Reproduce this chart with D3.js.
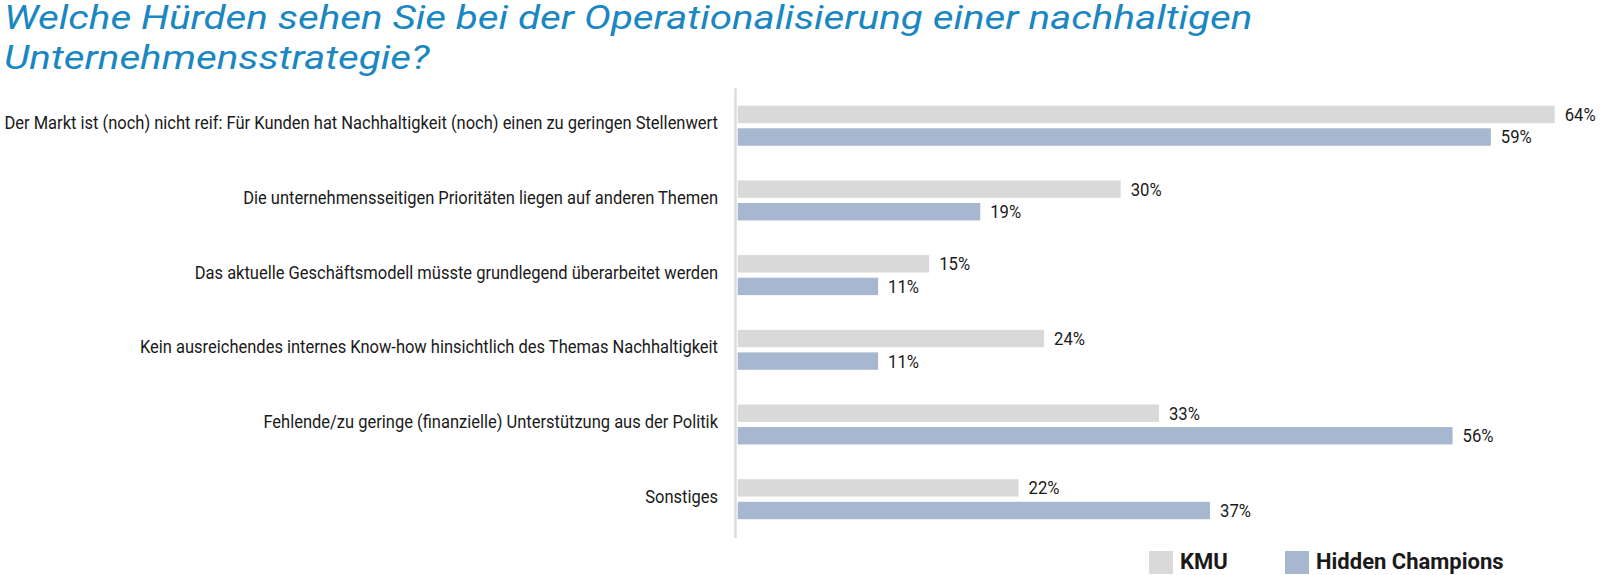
<!DOCTYPE html>
<html><head><meta charset="utf-8">
<script src="https://cdn.jsdelivr.net/npm/d3@7"></script>
<style>html,body{margin:0;padding:0;background:#fff;}svg{display:block;}</style>
</head><body>
<svg id="chart" width="1600" height="575"></svg>
<script>
const titleLines = ["Welche Hürden sehen Sie bei der Operationalisierung einer nachhaltigen", "Unternehmensstrategie?"];
const categories = [
  "Der Markt ist (noch) nicht reif: Für Kunden hat Nachhaltigkeit (noch) einen zu geringen Stellenwert",
  "Die unternehmensseitigen Prioritäten liegen auf anderen Themen",
  "Das aktuelle Geschäftsmodell müsste grundlegend überarbeitet werden",
  "Kein ausreichendes internes Know-how hinsichtlich des Themas Nachhaltigkeit",
  "Fehlende/zu geringe (finanzielle) Unterstützung aus der Politik",
  "Sonstiges"
];
const seriesNames = ["KMU", "Hidden Champions"];
const kmuValues = [64, 30, 15, 24, 33, 22];
const hcValues = [59, 19, 11, 11, 56, 37];
const seriesColors = ["#d9d9d9", "#a6b7cf"];

const svg = d3.select("#chart");
const font = "Roboto, 'Liberation Sans', sans-serif";

// Title
const title = svg.append("g");
const tl = title.selectAll("text").data(titleLines).join("text")
  .attr("font-family", font).attr("font-style", "italic").attr("font-size", 34)
  .attr("fill", "#1a87c2")
  .text(d => d);
const t0 = tl.nodes()[0].getComputedTextLength();
const tsx = 1249 / t0;
tl.attr("transform", (d, i) => `translate(4,${29 + i * 39.5}) scale(${tsx},1)`);

// Scales
const y = d3.scaleBand().domain(categories).range([88.35, 536.55]).paddingInner(0).paddingOuter(0);
const yInner = d3.scaleBand().domain(seriesNames).range([17.35, 57.35]).paddingInner(0.23);
const x = d3.scaleLinear().domain([0, 100]).range([737.7, 737.7 + 1276.5]);

const data = categories.map((c, i) => ({cat: c, vals: [
  {s: seriesNames[0], v: kmuValues[i], c: seriesColors[0]},
  {s: seriesNames[1], v: hcValues[i], c: seriesColors[1]}
]}));

// Axis line
svg.append("line")
  .attr("x1", 735.5).attr("x2", 735.5)
  .attr("y1", y.range()[0]).attr("y2", y.range()[1] + 1.5)
  .attr("stroke", "#dcdcdc").attr("stroke-width", 2.5);

const groups = svg.selectAll("g.grp").data(data).join("g").attr("class", "grp")
  .attr("transform", d => `translate(0,${y(d.cat)})`);

groups.selectAll("rect").data(d => d.vals).join("rect")
  .attr("x", x(0)).attr("y", d => yInner(d.s))
  .attr("width", d => x(d.v) - x(0)).attr("height", yInner.bandwidth())
  .attr("fill", d => d.c);

// value labels
const vl = groups.selectAll("text.val").data(d => d.vals).join("text").attr("class", "val")
  .attr("font-family", font).attr("font-size", 18.5).attr("fill", "#1a1a1a")
  .text(d => d.v + "%");
const vw = vl.nodes()[0].getComputedTextLength();
const vsx = 31 / vw;
vl.attr("transform", d => `translate(${x(d.v) + 10},${yInner(d.s) + yInner.bandwidth() / 2 + 6.5}) scale(${vsx},1)`);

// category labels
const cl = groups.append("text")
  .attr("font-family", font).attr("font-size", 19).attr("fill", "#1a1a1a")
  .attr("text-anchor", "end")
  .text(d => d.cat);
const cw = cl.nodes()[0].getComputedTextLength();
const csx = 714 / cw;
cl.attr("transform", `translate(718,${37.35 + 3.5}) scale(${csx},1)`);

// legend
const legX = [1149, 1285];
const leg = svg.selectAll("g.leg").data(seriesNames).join("g").attr("class", "leg")
  .attr("transform", (d, i) => `translate(${legX[i]},551)`);
leg.append("rect").attr("width", 24).attr("height", 23).attr("fill", (d, i) => seriesColors[i]);
leg.append("text").attr("x", 31).attr("y", 17.5)
  .attr("font-family", font).attr("font-weight", 700).attr("font-size", 22).attr("fill", "#1a1a1a")
  .text(d => d);
</script>
</body></html>
